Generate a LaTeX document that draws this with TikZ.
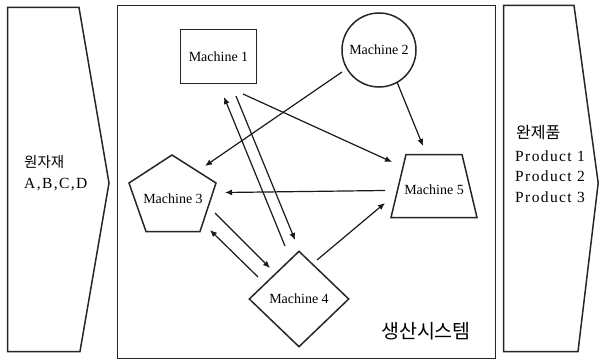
\documentclass[tikz,border=0pt]{standalone}
\usepackage{fontspec}
\setmainfont{Liberation Serif}
\newfontfamily\kr{Noto Sans CJK KR}
\usetikzlibrary{shapes.geometric,arrows.meta}
\begin{document}
\begin{tikzpicture}[x=1pt,y=-1pt,line join=miter,
  frame/.style={draw=black!85,line width=1.5pt},
  mfont/.style={font=\fontsize{14}{16}\selectfont},
  mach/.style={draw=black!85,line width=1.5pt,inner sep=0pt,mfont},
  arr/.style={line width=1.2pt,draw=black!90,-{Latex[length=7pt,width=6pt]}},
  sidetxt/.style={anchor=base west,inner sep=0pt,font=\fontsize{15.5}{17}\selectfont\addfontfeature{LetterSpace=9}},
  krtxt/.style={anchor=base west,inner sep=0pt,font=\kr\fontsize{14.5}{16}\selectfont}]
\useasboundingbox (0,0) rectangle (600,361);
% outer frames
\draw[frame] (7.5,7.5) -- (79,7.5) -- (109,183) -- (80,351.5) -- (7.5,351.5) -- cycle;
\draw[frame] (117.5,5.5) rectangle (495.5,358.5);
\draw[frame] (503.5,5.5) -- (574,5.5) -- (598.2,183) -- (578,351.5) -- (503.5,351.5) -- cycle;
% side texts
\node[krtxt] (raw) at (24,167) {원자재};
\node[sidetxt] (abcd) at (24,188) {A,B,C,D};
\node[krtxt,font=\kr\fontsize{16}{18}\selectfont] (fin) at (516,138) {완제품};
\node[sidetxt] (p1) at (515,161) {Product 1};
\node[sidetxt] (p2) at (515,181.5) {Product 2};
\node[sidetxt] (p3) at (515,202) {Product 3};
\node[inner sep=0pt,font=\kr\fontsize{19.5}{21}\selectfont] (sys) at (426,331) {생산시스템};
% machines
\node[mach,rectangle,minimum width=76pt,minimum height=54pt] (m1) at (218.5,56.5) {Machine 1};
\node[mach,circle,minimum size=74pt] (m2) at (379,50) {Machine 2};
\draw[frame] (172,155) -- (216,183) -- (200,231.5) -- (146,231.5) -- (129,183) -- cycle;
\node[inner sep=0pt,mfont] (m3) at (173,199) {Machine 3};
\node[mach,diamond,minimum width=100pt,minimum height=96pt] (m4) at (299,299) {Machine 4};
\draw[frame] (406,154.5) -- (462,154.5) -- (477,217.5) -- (391,217.5) -- cycle;
\node[inner sep=0pt,mfont] (m5) at (434,190) {Machine 5};
% arrow ends
\coordinate (a1s) at (342,72);  \coordinate (a1e) at (205,166);
\coordinate (a2s) at (397,82);  \coordinate (a2e) at (423,146);
\coordinate (a3s) at (243,94);  \coordinate (a3e) at (392,162);
\coordinate (a4s) at (285,246); \coordinate (a4e) at (224,97);
\coordinate (a5s) at (236,96);  \coordinate (a5e) at (295,240);
\coordinate (a6s) at (385,190.5); \coordinate (a6e) at (225,192.5);
\coordinate (a7s) at (215,213); \coordinate (a7e) at (270,268);
\coordinate (a8s) at (258,277); \coordinate (a8e) at (210,230);
\coordinate (a9s) at (317,260); \coordinate (a9e) at (385,203);
\draw[arr] (a1s) -- (a1e);
\draw[arr] (a2s) -- (a2e);
\draw[arr] (a3s) -- (a3e);
\draw[arr] (a4s) -- (a4e);
\draw[arr] (a5s) -- (a5e);
\draw[arr] (a6s) -- (a6e);
\draw[arr] (a7s) -- (a7e);
\draw[arr] (a8s) -- (a8e);
\draw[arr] (a9s) -- (a9e);
\end{tikzpicture}
\end{document}
